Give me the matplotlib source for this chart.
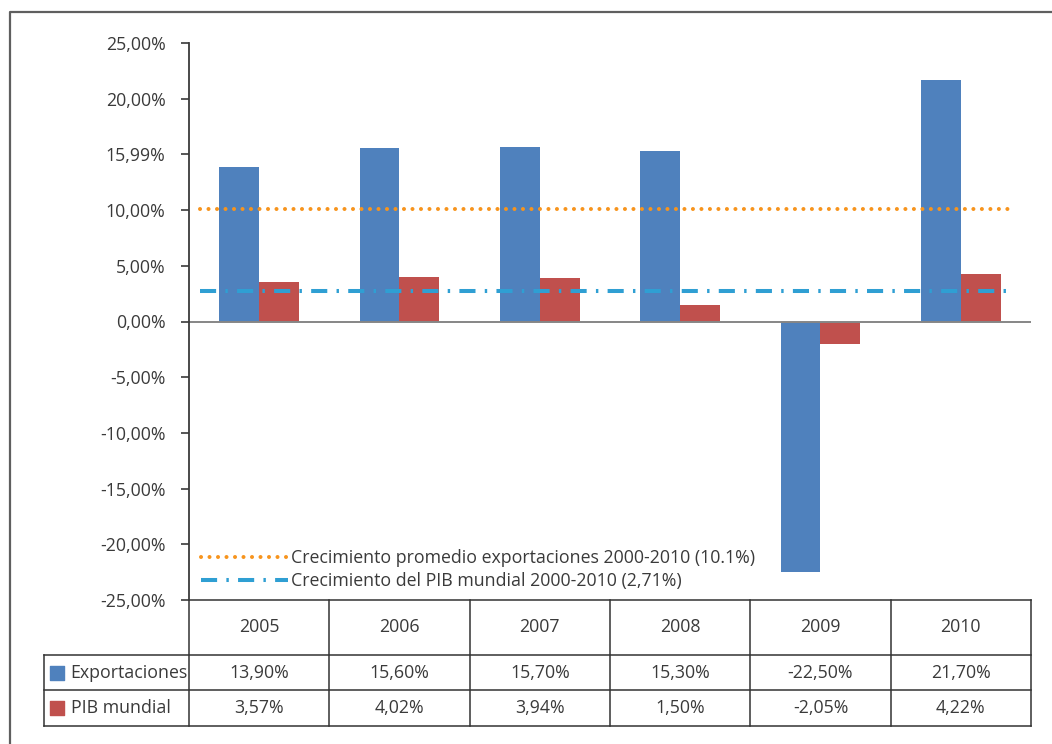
import matplotlib
matplotlib.use("Agg")
import matplotlib.pyplot as plt
from matplotlib.lines import Line2D
import numpy as np

plt.rcParams["font.family"] = ["Open Sans", "DejaVu Sans"]

years = ["2005", "2006", "2007", "2008", "2009", "2010"]
exportaciones = [13.90, 15.60, 15.70, 15.30, -22.50, 21.70]
pib_mundial = [3.57, 4.02, 3.94, 1.50, -2.05, 4.22]
exp_labels = ["13,90%", "15,60%", "15,70%", "15,30%", "-22,50%", "21,70%"]
pib_labels = ["3,57%", "4,02%", "3,94%", "1,50%", "-2,05%", "4,22%"]
avg_exp = 10.1
avg_pib = 2.71
yticks = [25, 20, 15, 10, 5, 0, -5, -10, -15, -20, -25]
ytick_labels = ["25,00%", "20,00%", "15,99%", "10,00%", "5,00%", "0,00%",
                "-5,00%", "-10,00%", "-15,00%", "-20,00%", "-25,00%"]
series_names = ["Exportaciones", "PIB mundial"]
line_names = ["Crecimiento promedio exportaciones 2000-2010 (10.1%)",
              "Crecimiento del PIB mundial 2000-2010 (2,71%)"]

BLUE = "#4f81bd"
RED = "#c0504d"
ORANGE = "#f7941d"
CYAN = "#2f9fd3"
TXT = "#3a3a3a"
FS = 12.8

W, H = 1052, 744
fig = plt.figure(figsize=(W / 100, H / 100), dpi=100)

# outer frame (only left and top visible in the crop)
fig.add_artist(Line2D([10 / W, 10 / W, 1.0], [0.0, 1 - 12 / H, 1 - 12 / H],
                      transform=fig.transFigure, color="#5f5f5f", lw=1.6))

x0, x1, ytop, ybot = 189, 1031, 43, 600
ax = fig.add_axes([x0 / W, 1 - ybot / H, (x1 - x0) / W, (ybot - ytop) / H])

x = np.arange(len(years))
bw = 0.285
ax.bar(x - bw / 2, exportaciones, bw, color=BLUE, zorder=2)
ax.bar(x + bw / 2, pib_mundial, bw, color=RED, zorder=2)

l1, = ax.plot([-0.42, 5.37], [avg_exp, avg_exp], color=ORANGE, lw=2.9,
              dashes=(0.01, 2.1), dash_capstyle="round", zorder=3)
l2, = ax.plot([-0.42, 5.35], [avg_pib, avg_pib], color=CYAN, lw=2.9,
              dashes=(4.0, 2.3, 0.6, 2.3), zorder=3)

ax.axhline(0, color="#868686", lw=1.4, zorder=2.5)

ax.set_xlim(-0.5, len(years) - 0.5)
ax.set_ylim(-25, 25)
ax.set_yticks(yticks)
ax.set_yticklabels(ytick_labels, fontsize=FS, color=TXT)
ax.tick_params(axis="y", direction="out", length=6, width=1.2, color=TXT, pad=11)
ax.set_xticks([])
for s in ["top", "right", "bottom"]:
    ax.spines[s].set_visible(False)
ax.spines["left"].set_color(TXT)
ax.spines["left"].set_linewidth(1.3)

leg = ax.legend([l1, l2], line_names, loc="center left",
                bbox_to_anchor=(0.014, 0.054), frameon=False, fontsize=FS,
                handlelength=4.9, handletextpad=0.15, labelspacing=0.28,
                borderaxespad=0.0, borderpad=0.0)
for t in leg.get_texts():
    t.set_color(TXT)

# data table under the plot
ph = ybot - ytop
rows = [0.0, -(655 - ybot) / ph, -(690 - ybot) / ph, -(726 - ybot) / ph]
xl = -0.5 - (x0 - 44) / ((x1 - x0) / len(years))
tr = ax.get_xaxis_transform()
lc = dict(color="#333333", lw=1.1, transform=tr, clip_on=False)

ax.plot([-0.5, 5.5], [rows[0], rows[0]], **lc)
for r in rows[1:]:
    ax.plot([xl, 5.5], [r, r], **lc)
ax.plot([xl, xl], [rows[1], rows[3]], **lc)
for k in range(len(years) + 1):
    ax.plot([k - 0.5, k - 0.5], [rows[0], rows[3]], **lc)

for i, yr in enumerate(years):
    ax.text(i, (rows[0] + rows[1]) / 2, yr, transform=tr, ha="center",
            va="center", fontsize=FS, color=TXT, clip_on=False)
    ax.text(i, (rows[1] + rows[2]) / 2, exp_labels[i], transform=tr,
            ha="center", va="center", fontsize=FS, color=TXT, clip_on=False)
    ax.text(i, (rows[2] + rows[3]) / 2, pib_labels[i], transform=tr,
            ha="center", va="center", fontsize=FS, color=TXT, clip_on=False)

for j, (name, col) in enumerate(zip(series_names, [BLUE, RED])):
    yc = (rows[j + 1] + rows[j + 2]) / 2
    ax.scatter([xl + 0.095], [yc], marker="s", s=95, color=col,
               transform=tr, clip_on=False, zorder=4)
    ax.text(xl + 0.19, yc, name, transform=tr, ha="left", va="center",
            fontsize=FS, color=TXT, clip_on=False)

fig.savefig("out.png", dpi=100)
